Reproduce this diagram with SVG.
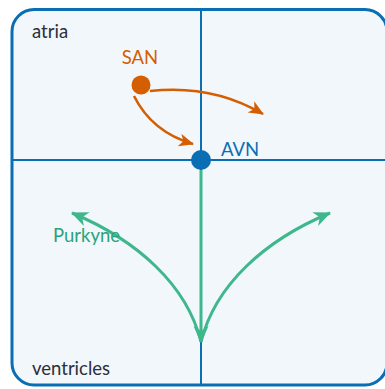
<svg xmlns="http://www.w3.org/2000/svg" width="385" height="389" viewBox="0 0 385 389">
<style>
text{font-family:Lato,"Liberation Sans",sans-serif;font-size:18.5px}
.lbl{fill:#2b2f3a}
.grid{stroke:#0a6eb4;stroke-width:2;fill:none}
.org{stroke:#d55e00;stroke-width:2.6;fill:none}
.grn{stroke:#3fb78c;stroke-width:3;fill:none}
</style>
<defs>
<marker id="ao" markerUnits="userSpaceOnUse" markerWidth="18" markerHeight="16" refX="14" refY="6.5" orient="auto"><path d="M0,0 L15,6.5 L0,13 L4,6.5 z" fill="#d55e00"/></marker>
<marker id="ag" markerUnits="userSpaceOnUse" markerWidth="20" markerHeight="18" refX="16" refY="7.5" orient="auto"><path d="M0,0 L17,7.5 L0,15 L5,7.5 z" fill="#3fb78c"/></marker>
</defs>
<g id="frame">
<rect x="12" y="9.5" width="375" height="375.5" rx="22" fill="#f2f7fb" stroke="#0a6eb4" stroke-width="3"/>
<line class="grid" x1="201" y1="9.5" x2="201" y2="385"/>
<line class="grid" x1="12" y1="160" x2="387" y2="160"/>
<text class="lbl" x="32" y="38">atria</text>
<text class="lbl" x="32" y="375">ventricles</text>
</g>
<g id="connectors">
<path class="org" d="M134,96 Q152,132 193,144" marker-end="url(#ao)"/>
<path class="org" d="M150,91 Q212,84 263,114" marker-end="url(#ao)"/>
<path class="grn" d="M201,170 L201,342" marker-end="url(#ag)"/>
<path class="grn" d="M201,342 C215,285 265,240 330,213" marker-end="url(#ag)"/>
<path class="grn" d="M201,342 C187,285 137,240 72,213" marker-end="url(#ag)"/>
</g>
<g id="SAN">
<circle cx="141" cy="85" r="9.5" fill="#d55e00"/>
<text x="140" y="64" text-anchor="middle" fill="#d55e00">SAN</text>
</g>
<g id="AVN">
<circle cx="201" cy="160" r="10" fill="#0a6eb4"/>
<text x="221" y="156" fill="#0a6eb4">AVN</text>
</g>
<g id="Purkyne">
<text x="53" y="242" fill="#2aa37a">Purkyne</text>
</g>
</svg>
